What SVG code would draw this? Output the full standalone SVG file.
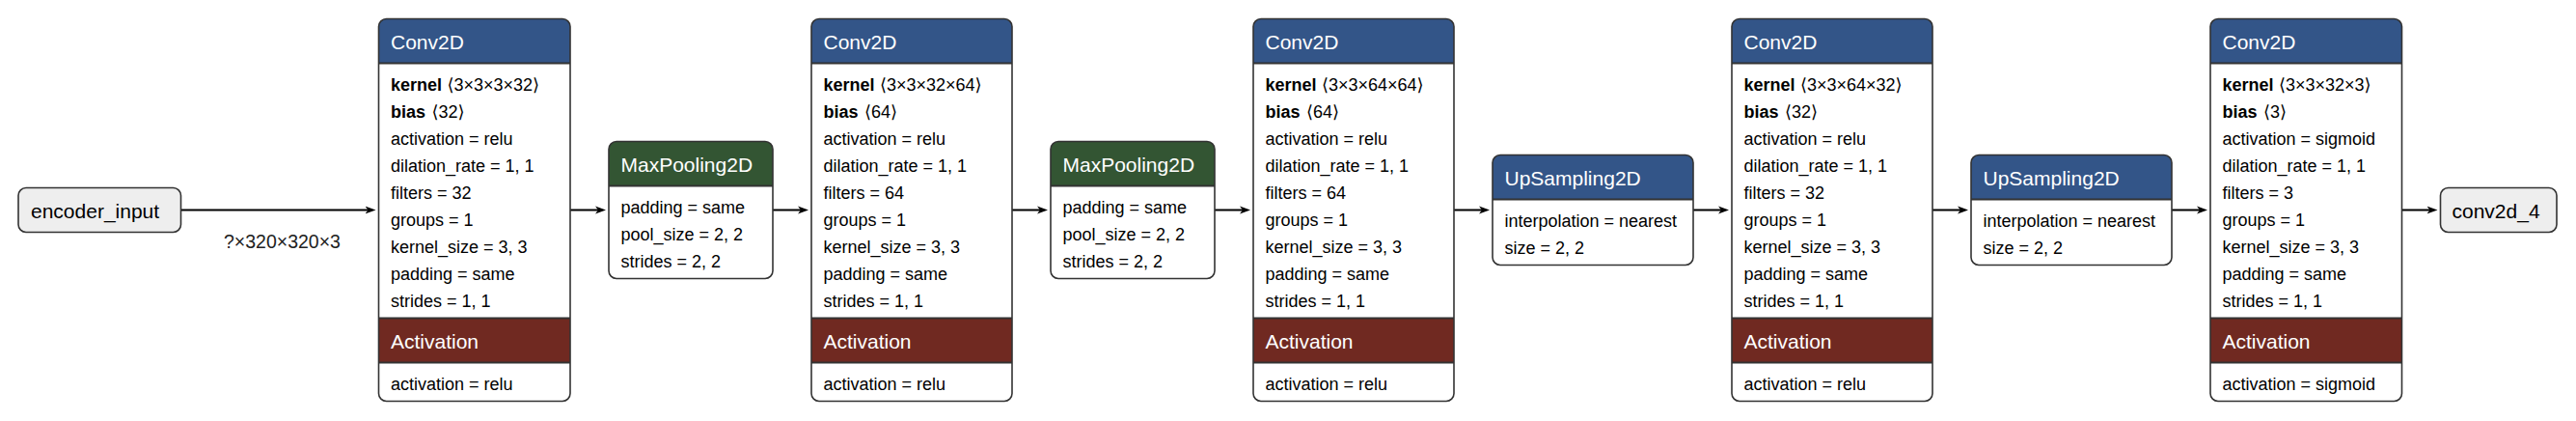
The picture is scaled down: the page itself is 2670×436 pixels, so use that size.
<svg xmlns="http://www.w3.org/2000/svg" width="2670" height="436" viewBox="0 0 2670 436">
<defs>
<style>
text{font-family:"Liberation Sans","DejaVu Sans",sans-serif;}
.body{fill:#fff;}
.io{fill:#eeeeee;stroke:#333;stroke-width:1.6;}
.outline{fill:none;stroke:#333;stroke-width:1.6;}
.sep{stroke:#333;stroke-width:1.8;}
.layer{fill:#335588;}
.act{fill:#702921;}
.pool{fill:#335533;}
.title{font-size:21px;fill:#fff;}
.name{font-size:21px;fill:#000;}
.row{font-size:18px;fill:#000;}
.b{font-weight:bold;}
.edge{fill:none;stroke:#000;stroke-width:2;marker-end:url(#arrow);}
.elabel{font-size:19.5px;fill:#222;}
</style>
<marker id="arrow" markerUnits="userSpaceOnUse" markerWidth="11" markerHeight="9" refX="7" refY="4.5" orient="auto" viewBox="0 0 11 9">
<path d="M0,0.5 L11,4.5 L0,8.5 L3,4.5 Z" fill="#000"/>
</marker>
</defs>
<rect width="2670" height="436" fill="#fff"/>

<g id="connectors">
<path class="edge" d="M187.5,217.5 H385.5"/>
<path class="edge" d="M591,217.5 H624"/>
<path class="edge" d="M801,217.5 H834"/>
<path class="edge" d="M1049,217.5 H1082"/>
<path class="edge" d="M1259,217.5 H1292"/>
<path class="edge" d="M1507,217.5 H1540"/>
<path class="edge" d="M1755,217.5 H1788"/>
<path class="edge" d="M2003,217.5 H2036"/>
<path class="edge" d="M2251,217.5 H2284"/>
<path class="edge" d="M2489.5,217.5 H2522.5"/>
<text class="elabel" x="232" y="256.7">?×320×320×3</text>
</g>

<g id="encoder_input" transform="translate(19,194.5)">
<rect class="io" x="0" y="0" width="168.5" height="46" rx="8"/>
<text class="name" x="13" y="31.7">encoder_input</text>
</g>

<g id="conv2d" transform="translate(392.5,19.5)">
<rect class="body" width="198.5" height="396" rx="8"/>
<path class="layer" d="M0,46 V8 A8,8 0 0 1 8,0 H190.5 A8,8 0 0 1 198.5,8 V46 Z"/>
<rect class="act" x="0" y="310" width="198.5" height="46"/>
<line class="sep" x1="0" y1="46" x2="198.5" y2="46"/>
<line class="sep" x1="0" y1="310" x2="198.5" y2="310"/>
<line class="sep" x1="0" y1="356" x2="198.5" y2="356"/>
<rect class="outline" width="198.5" height="396" rx="8"/>
<text class="title" x="12.5" y="31.5">Conv2D</text>
<text class="row" y="74.3"><tspan class="b" x="12.5">kernel</tspan><tspan x="71">⟨3×3×3×32⟩</tspan></text>
<text class="row" y="102.3"><tspan class="b" x="12.5">bias</tspan><tspan x="55">⟨32⟩</tspan></text>
<text class="row" x="12.5" y="130.3">activation = relu</text>
<text class="row" x="12.5" y="158.3">dilation_rate = 1, 1</text>
<text class="row" x="12.5" y="186.3">filters = 32</text>
<text class="row" x="12.5" y="214.3">groups = 1</text>
<text class="row" x="12.5" y="242.3">kernel_size = 3, 3</text>
<text class="row" x="12.5" y="270.3">padding = same</text>
<text class="row" x="12.5" y="298.3">strides = 1, 1</text>
<text class="title" x="12.5" y="341.5">Activation</text>
<text class="row" x="12.5" y="384.3">activation = relu</text>
</g>

<g id="max_pooling2d" transform="translate(631,146.5)">
<rect class="body" width="170" height="142" rx="8"/>
<path class="pool" d="M0,46 V8 A8,8 0 0 1 8,0 H162 A8,8 0 0 1 170,8 V46 Z"/>
<line class="sep" x1="0" y1="46" x2="170" y2="46"/>
<rect class="outline" width="170" height="142" rx="8"/>
<text class="title" x="12.5" y="31.5">MaxPooling2D</text>
<text class="row" x="12.5" y="74.3">padding = same</text>
<text class="row" x="12.5" y="102.3">pool_size = 2, 2</text>
<text class="row" x="12.5" y="130.3">strides = 2, 2</text>
</g>

<g id="conv2d_1" transform="translate(841,19.5)">
<rect class="body" width="208" height="396" rx="8"/>
<path class="layer" d="M0,46 V8 A8,8 0 0 1 8,0 H200 A8,8 0 0 1 208,8 V46 Z"/>
<rect class="act" x="0" y="310" width="208" height="46"/>
<line class="sep" x1="0" y1="46" x2="208" y2="46"/>
<line class="sep" x1="0" y1="310" x2="208" y2="310"/>
<line class="sep" x1="0" y1="356" x2="208" y2="356"/>
<rect class="outline" width="208" height="396" rx="8"/>
<text class="title" x="12.5" y="31.5">Conv2D</text>
<text class="row" y="74.3"><tspan class="b" x="12.5">kernel</tspan><tspan x="71">⟨3×3×32×64⟩</tspan></text>
<text class="row" y="102.3"><tspan class="b" x="12.5">bias</tspan><tspan x="55">⟨64⟩</tspan></text>
<text class="row" x="12.5" y="130.3">activation = relu</text>
<text class="row" x="12.5" y="158.3">dilation_rate = 1, 1</text>
<text class="row" x="12.5" y="186.3">filters = 64</text>
<text class="row" x="12.5" y="214.3">groups = 1</text>
<text class="row" x="12.5" y="242.3">kernel_size = 3, 3</text>
<text class="row" x="12.5" y="270.3">padding = same</text>
<text class="row" x="12.5" y="298.3">strides = 1, 1</text>
<text class="title" x="12.5" y="341.5">Activation</text>
<text class="row" x="12.5" y="384.3">activation = relu</text>
</g>

<g id="max_pooling2d_1" transform="translate(1089,146.5)">
<rect class="body" width="170" height="142" rx="8"/>
<path class="pool" d="M0,46 V8 A8,8 0 0 1 8,0 H162 A8,8 0 0 1 170,8 V46 Z"/>
<line class="sep" x1="0" y1="46" x2="170" y2="46"/>
<rect class="outline" width="170" height="142" rx="8"/>
<text class="title" x="12.5" y="31.5">MaxPooling2D</text>
<text class="row" x="12.5" y="74.3">padding = same</text>
<text class="row" x="12.5" y="102.3">pool_size = 2, 2</text>
<text class="row" x="12.5" y="130.3">strides = 2, 2</text>
</g>

<g id="conv2d_2" transform="translate(1299,19.5)">
<rect class="body" width="208" height="396" rx="8"/>
<path class="layer" d="M0,46 V8 A8,8 0 0 1 8,0 H200 A8,8 0 0 1 208,8 V46 Z"/>
<rect class="act" x="0" y="310" width="208" height="46"/>
<line class="sep" x1="0" y1="46" x2="208" y2="46"/>
<line class="sep" x1="0" y1="310" x2="208" y2="310"/>
<line class="sep" x1="0" y1="356" x2="208" y2="356"/>
<rect class="outline" width="208" height="396" rx="8"/>
<text class="title" x="12.5" y="31.5">Conv2D</text>
<text class="row" y="74.3"><tspan class="b" x="12.5">kernel</tspan><tspan x="71">⟨3×3×64×64⟩</tspan></text>
<text class="row" y="102.3"><tspan class="b" x="12.5">bias</tspan><tspan x="55">⟨64⟩</tspan></text>
<text class="row" x="12.5" y="130.3">activation = relu</text>
<text class="row" x="12.5" y="158.3">dilation_rate = 1, 1</text>
<text class="row" x="12.5" y="186.3">filters = 64</text>
<text class="row" x="12.5" y="214.3">groups = 1</text>
<text class="row" x="12.5" y="242.3">kernel_size = 3, 3</text>
<text class="row" x="12.5" y="270.3">padding = same</text>
<text class="row" x="12.5" y="298.3">strides = 1, 1</text>
<text class="title" x="12.5" y="341.5">Activation</text>
<text class="row" x="12.5" y="384.3">activation = relu</text>
</g>

<g id="up_sampling2d" transform="translate(1547,160.5)">
<rect class="body" width="208" height="114" rx="8"/>
<path class="layer" d="M0,46 V8 A8,8 0 0 1 8,0 H200 A8,8 0 0 1 208,8 V46 Z"/>
<line class="sep" x1="0" y1="46" x2="208" y2="46"/>
<rect class="outline" width="208" height="114" rx="8"/>
<text class="title" x="12.5" y="31.5">UpSampling2D</text>
<text class="row" x="12.5" y="74.3">interpolation = nearest</text>
<text class="row" x="12.5" y="102.3">size = 2, 2</text>
</g>

<g id="conv2d_3" transform="translate(1795,19.5)">
<rect class="body" width="208" height="396" rx="8"/>
<path class="layer" d="M0,46 V8 A8,8 0 0 1 8,0 H200 A8,8 0 0 1 208,8 V46 Z"/>
<rect class="act" x="0" y="310" width="208" height="46"/>
<line class="sep" x1="0" y1="46" x2="208" y2="46"/>
<line class="sep" x1="0" y1="310" x2="208" y2="310"/>
<line class="sep" x1="0" y1="356" x2="208" y2="356"/>
<rect class="outline" width="208" height="396" rx="8"/>
<text class="title" x="12.5" y="31.5">Conv2D</text>
<text class="row" y="74.3"><tspan class="b" x="12.5">kernel</tspan><tspan x="71">⟨3×3×64×32⟩</tspan></text>
<text class="row" y="102.3"><tspan class="b" x="12.5">bias</tspan><tspan x="55">⟨32⟩</tspan></text>
<text class="row" x="12.5" y="130.3">activation = relu</text>
<text class="row" x="12.5" y="158.3">dilation_rate = 1, 1</text>
<text class="row" x="12.5" y="186.3">filters = 32</text>
<text class="row" x="12.5" y="214.3">groups = 1</text>
<text class="row" x="12.5" y="242.3">kernel_size = 3, 3</text>
<text class="row" x="12.5" y="270.3">padding = same</text>
<text class="row" x="12.5" y="298.3">strides = 1, 1</text>
<text class="title" x="12.5" y="341.5">Activation</text>
<text class="row" x="12.5" y="384.3">activation = relu</text>
</g>

<g id="up_sampling2d_1" transform="translate(2043,160.5)">
<rect class="body" width="208" height="114" rx="8"/>
<path class="layer" d="M0,46 V8 A8,8 0 0 1 8,0 H200 A8,8 0 0 1 208,8 V46 Z"/>
<line class="sep" x1="0" y1="46" x2="208" y2="46"/>
<rect class="outline" width="208" height="114" rx="8"/>
<text class="title" x="12.5" y="31.5">UpSampling2D</text>
<text class="row" x="12.5" y="74.3">interpolation = nearest</text>
<text class="row" x="12.5" y="102.3">size = 2, 2</text>
</g>

<g id="conv2d_4_layer" transform="translate(2291,19.5)">
<rect class="body" width="198.5" height="396" rx="8"/>
<path class="layer" d="M0,46 V8 A8,8 0 0 1 8,0 H190.5 A8,8 0 0 1 198.5,8 V46 Z"/>
<rect class="act" x="0" y="310" width="198.5" height="46"/>
<line class="sep" x1="0" y1="46" x2="198.5" y2="46"/>
<line class="sep" x1="0" y1="310" x2="198.5" y2="310"/>
<line class="sep" x1="0" y1="356" x2="198.5" y2="356"/>
<rect class="outline" width="198.5" height="396" rx="8"/>
<text class="title" x="12.5" y="31.5">Conv2D</text>
<text class="row" y="74.3"><tspan class="b" x="12.5">kernel</tspan><tspan x="71">⟨3×3×32×3⟩</tspan></text>
<text class="row" y="102.3"><tspan class="b" x="12.5">bias</tspan><tspan x="55">⟨3⟩</tspan></text>
<text class="row" x="12.5" y="130.3">activation = sigmoid</text>
<text class="row" x="12.5" y="158.3">dilation_rate = 1, 1</text>
<text class="row" x="12.5" y="186.3">filters = 3</text>
<text class="row" x="12.5" y="214.3">groups = 1</text>
<text class="row" x="12.5" y="242.3">kernel_size = 3, 3</text>
<text class="row" x="12.5" y="270.3">padding = same</text>
<text class="row" x="12.5" y="298.3">strides = 1, 1</text>
<text class="title" x="12.5" y="341.5">Activation</text>
<text class="row" x="12.5" y="384.3">activation = sigmoid</text>
</g>

<g id="conv2d_4_output" transform="translate(2529.5,194.5)">
<rect class="io" x="0" y="0" width="120.5" height="46" rx="8"/>
<text class="name" x="12" y="31.7">conv2d_4</text>
</g>
</svg>
